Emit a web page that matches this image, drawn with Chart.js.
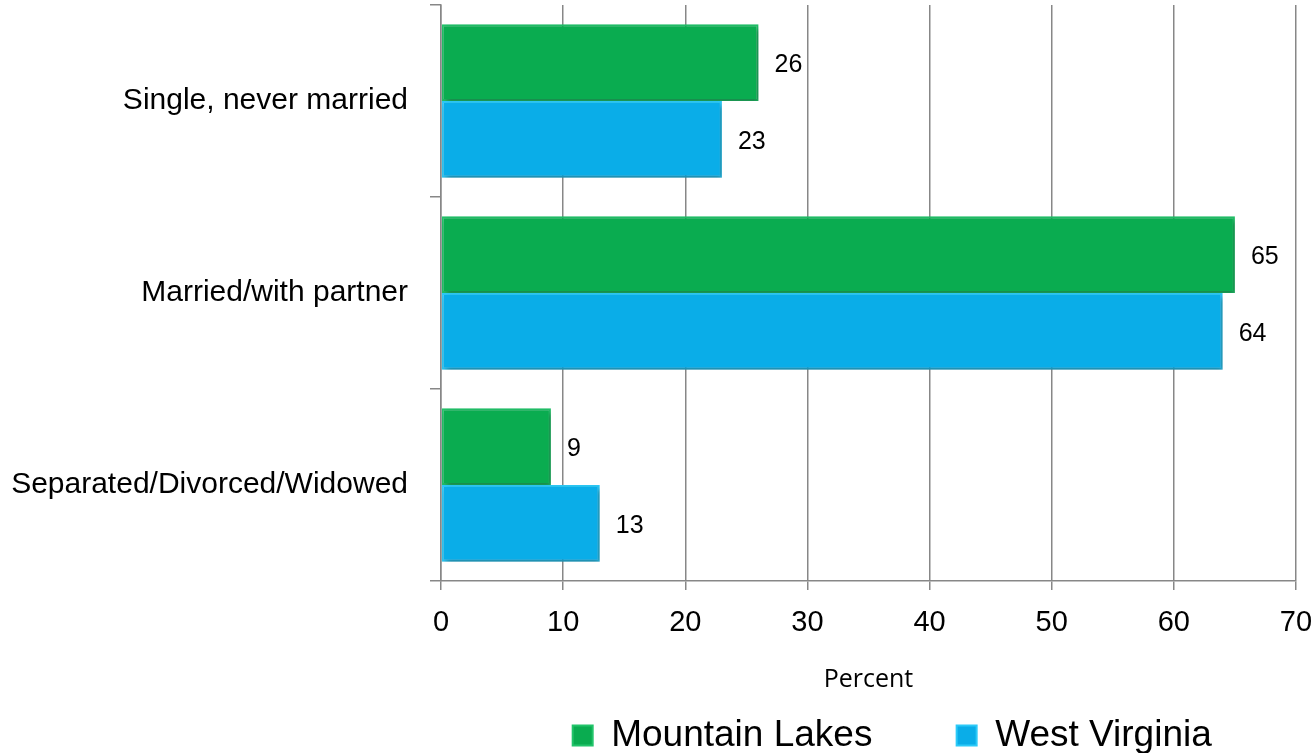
<!DOCTYPE html>
<html>
<head>
<meta charset="utf-8">
<script src="https://cdn.jsdelivr.net/npm/chart.js@4/dist/chart.umd.min.js"></script>
<style>
  html, body { margin: 0; padding: 0; background: #fff; }
</style>
</head>
<body>
<canvas id="myChart" width="1314" height="753"></canvas>
<script>
// Estado civil: Mountain Lakes x West Virginia (percentual)
const categories = ['Single, never married', 'Married/with partner', 'Separated/Divorced/Widowed'];
const mountainLakes = [26, 65, 9];
const westVirginia = [23, 64, 13];
const seriesNames = ['Mountain Lakes', 'West Virginia'];
const xMin = 0;
const xMax = 70;
const xStep = 10;

const FONT = '"Liberation Sans", Arial, sans-serif';

// sombra leve por baixo das barras
const barShadow = {
  id: 'barShadow',
  beforeDatasetsDraw(chart) {
    const ctx = chart.ctx;
    ctx.save();
    ctx.shadowColor = 'rgba(0, 0, 0, 0.35)';
    ctx.shadowBlur = 6;
    ctx.shadowOffsetX = 2;
    ctx.shadowOffsetY = 3;
  },
  afterDatasetsDraw(chart) {
    chart.ctx.restore();
  }
};

// valores escritos à direita de cada barra
const valueLabels = {
  id: 'valueLabels',
  afterDraw(chart) {
    const ctx = chart.ctx;
    ctx.save();
    ctx.font = '25px ' + FONT;
    ctx.fillStyle = '#000';
    ctx.textAlign = 'left';
    ctx.textBaseline = 'middle';
    chart.data.datasets.forEach((ds, i) => {
      chart.getDatasetMeta(i).data.forEach((bar, j) => {
        ctx.fillText(String(ds.data[j]), bar.x + 16, bar.y + 3);
      });
    });
    ctx.restore();
  }
};

let ctx = document.getElementById('myChart').getContext('2d');
let chart = new Chart(ctx, {
  type: 'bar',
  data: {
    labels: categories,
    datasets: [{
      label: seriesNames[0],
      data: mountainLakes,
      backgroundColor: '#0aac50',
      borderColor: '#22c46a',
      borderWidth: 2,
      borderSkipped: false,
      categoryPercentage: 0.8,
      barPercentage: 1.0
    }, {
      label: seriesNames[1],
      data: westVirginia,
      backgroundColor: '#0aade8',
      borderColor: '#2ccaf8',
      borderWidth: 2,
      borderSkipped: false,
      categoryPercentage: 0.8,
      barPercentage: 1.0
    }]
  },
  options: {
    indexAxis: 'y',
    responsive: false,
    animation: false,
    // legenda encostada no rodapé
    layout: { padding: { top: 5, right: 18, left: 0, bottom: -11 } },
    scales: {
      x: {
        min: xMin,
        max: xMax,
        ticks: {
          stepSize: xStep,
          color: '#000',
          font: { family: FONT, size: 29 },
          padding: 16
        },
        grid: {
          color: '#878787',
          lineWidth: 1.5,
          tickLength: 9,
          drawTicks: true
        },
        border: { color: '#878787', width: 1.5 },
        title: {
          display: true,
          text: 'Percent',
          color: '#000',
          font: { family: '"Open Sans", sans-serif', size: 25 },
          padding: { top: 4, bottom: 20 }
        },
        afterFit(scale) {
          scale.height = 134;
          scale.paddingLeft = 0;
          scale.paddingRight = 0;
        }
      },
      y: {
        ticks: {
          color: '#000',
          font: { family: FONT, size: 30 },
          padding: 22
        },
        grid: {
          drawOnChartArea: false,
          drawTicks: true,
          tickLength: 11,
          color: '#878787',
          lineWidth: 1.5
        },
        border: { color: '#878787', width: 1.5 },
        afterFit(scale) {
          scale.width = 441;
          scale.paddingTop = 0;
          scale.paddingBottom = 0;
        }
      }
    },
    plugins: {
      legend: {
        position: 'bottom',
        fullSize: false,
        align: 'end',
        labels: {
          color: '#000',
          font: { family: FONT, size: 37 },
          boxWidth: 20,
          boxHeight: 20,
          padding: 2,
          generateLabels(chart) {
            // espaços no fim de cada nome afastam os itens da legenda
            const items = Chart.defaults.plugins.legend.labels.generateLabels(chart);
            items.forEach((item) => { item.text = item.text + '        '; });
            return items;
          }
        }
      },
      tooltip: { enabled: false }
    }
  },
  plugins: [barShadow, valueLabels]
});
</script>
</body>
</html>
